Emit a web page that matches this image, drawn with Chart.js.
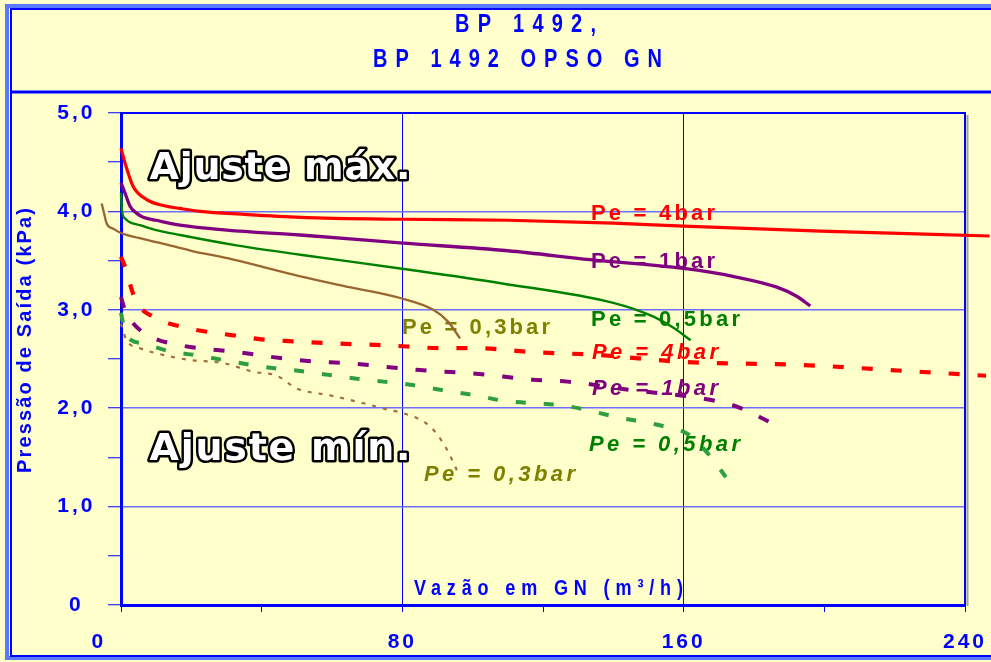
<!DOCTYPE html>
<html><head><meta charset="utf-8">
<script src="https://cdn.jsdelivr.net/npm/chart.js@4.4.1/dist/chart.umd.min.js"></script>
<style>html,body{margin:0;padding:0;background:#FFFFCC;overflow:hidden}#wrap{width:991px;height:662px;position:relative}</style>
</head><body><div id="wrap"><canvas id="c" width="991" height="662"></canvas></div>
<script>
// ---- texts ----
const titleLines = ['BP 1492,', 'BP 1492 OPSO GN'];
const yAxisTitle = 'Pressão de Saída (kPa)';
const xAxisTitle = 'Vazão em GN (m³/h)';
const seriesNames = ['Pe = 4bar', 'Pe = 1bar', 'Pe = 0,5bar', 'Pe = 0,3bar'];
const adjustLabels = ['Ajuste máx.', 'Ajuste mín.'];
const xTickLabels = {0: '0', 80: '80', 160: '160', 240: '240'};
const yTickLabels = {0: '0', 1: '1,0', 2: '2,0', 3: '3,0', 4: '4,0', 5: '5,0'};

// ---- data: "Ajuste máx." (solid) ----
const max4x = [0, 1.5, 3.5, 7.3, 12, 16.8, 22.5, 35, 51, 79.4, 110, 140, 160, 199, 247];
const max4y = [4.64, 4.45, 4.25, 4.12, 4.06, 4.03, 4.00, 3.97, 3.94, 3.92, 3.91, 3.88, 3.85, 3.80, 3.75];
const max1x = [0, 1.2, 2.6, 4.5, 6.3, 10, 16.8, 30, 51, 79.4, 110, 133.4, 160, 174, 186.5, 192, 196];
const max1y = [4.29, 4.18, 4.05, 3.98, 3.94, 3.91, 3.86, 3.81, 3.76, 3.68, 3.60, 3.51, 3.42, 3.34, 3.23, 3.14, 3.04];
const max05x = [0, 0.3, 1.1, 2.5, 5.4, 10, 16.8, 32, 51, 79.4, 108, 140, 151.4, 157, 162];
const max05y = [4.19, 4.00, 3.93, 3.89, 3.86, 3.81, 3.76, 3.66, 3.56, 3.42, 3.27, 3.07, 2.93, 2.82, 2.69];
const max03x = [-5.5, -4.8, -4.1, -2, 0, 5, 11.1, 20, 32, 51, 65, 79.4, 88.8, 93, 96.4];
const max03y = [4.08, 3.98, 3.88, 3.82, 3.78, 3.73, 3.68, 3.60, 3.51, 3.34, 3.23, 3.12, 3.00, 2.88, 2.71];

// ---- data: "Ajuste mín." (dashed) ----
const min4x = [0, 1.6, 3.0, 4.5, 9.2, 16.8, 24, 32, 40, 49, 59.5, 75, 91.7, 101, 117, 136, 160, 193, 227, 246];
const min4y = [3.54, 3.39, 3.21, 3.07, 2.93, 2.83, 2.78, 2.74, 2.70, 2.68, 2.66, 2.64, 2.61, 2.61, 2.57, 2.54, 2.47, 2.44, 2.37, 2.33];
const min1x = [0, 1.1, 3.5, 8.3, 16.8, 32.9, 50, 67, 84, 101, 117, 127, 146, 165, 174, 180, 186];
const min1y = [3.13, 3.00, 2.86, 2.73, 2.64, 2.57, 2.49, 2.45, 2.39, 2.35, 2.29, 2.27, 2.18, 2.10, 2.03, 1.94, 1.83];
const min05x = [0, 0.5, 1.1, 3, 6.3, 13.5, 21, 29, 37, 45, 50.4, 67, 74.6, 84, 92, 101, 108, 127, 141, 155, 161, 167.6, 172];
const min05y = [2.97, 2.88, 2.79, 2.69, 2.66, 2.58, 2.54, 2.49, 2.44, 2.40, 2.38, 2.30, 2.27, 2.23, 2.18, 2.13, 2.08, 2.02, 1.91, 1.81, 1.74, 1.51, 1.30];
const min03x = [0, 1.6, 5.4, 11, 19.6, 29, 37.6, 44.3, 50, 59.5, 69, 76.5, 80.3, 88, 92.7, 95.5];
const min03y = [2.86, 2.69, 2.61, 2.55, 2.49, 2.46, 2.37, 2.33, 2.20, 2.13, 2.05, 1.98, 1.95, 1.81, 1.58, 1.37];

const zip = (xs, ys) => xs.map((x, i) => ({x: x, y: ys[i]}));

const BLUE = '#0000FF';
const FONT = '"Liberation Sans", Arial, sans-serif';

function ds(label, xs, ys, color, width, dash) {
  return {
    label: label, data: zip(xs, ys), borderColor: color, backgroundColor: color,
    borderWidth: width, borderDash: dash || [], pointRadius: 0, fill: false,
    cubicInterpolationMode: 'monotone', clip: false, borderCapStyle: 'butt'
  };
}

const datasets = [
  ds(seriesNames[3] + ' mín', min03x, min03y, '#A0703C', 2.2, [4, 7]),
  ds(seriesNames[2] + ' mín', min05x, min05y, '#2E9E3E', 4, [10, 18]),
  ds(seriesNames[1] + ' mín', min1x, min1y, '#800080', 4, [11, 18]),
  ds(seriesNames[0] + ' mín', min4x, min4y, '#FF0000', 4.2, [11, 18]),
  ds(seriesNames[3] + ' máx', max03x, max03y, '#996633', 2.3),
  ds(seriesNames[2] + ' máx', max05x, max05y, '#008000', 2.4),
  ds(seriesNames[1] + ' máx', max1x, max1y, '#800080', 3.3),
  ds(seriesNames[0] + ' máx', max4x, max4y, '#FF0000', 3.2)
];

function spaced(ctx, text, left, baseline, font, width, color, stroke, hs) {
  hs = hs || 1;
  ctx.save();
  ctx.translate(left, baseline);
  ctx.scale(hs, 1);
  ctx.font = font;
  ctx.letterSpacing = '0px';
  const w0 = ctx.measureText(text).width;
  const n = Array.from(text).length;
  const ls = n > 1 ? (width / hs - w0) / (n - 1) : 0;
  ctx.letterSpacing = ls + 'px';
  ctx.textAlign = 'left';
  ctx.textBaseline = 'alphabetic';
  if (stroke) {
    ctx.lineJoin = 'round';
    ctx.lineWidth = stroke;
    ctx.strokeStyle = '#000000';
    ctx.strokeText(text, 0, 0);
  }
  ctx.fillStyle = color;
  ctx.fillText(text, 0, 0);
  ctx.restore();
}

const decor = {
  id: 'decor',
  beforeDraw(chart) {
    const ctx = chart.ctx;
    ctx.save();
    ctx.fillStyle = '#FFFFCC';
    ctx.fillRect(0, 0, chart.width, chart.height);
    ctx.strokeStyle = '#5A7BFF';
    ctx.lineWidth = 4;
    ctx.strokeRect(7, 6, 1000, 652);
    ctx.strokeStyle = BLUE;
    ctx.lineWidth = 2;
    ctx.strokeRect(11, 9, 1000, 647);
    ctx.lineWidth = 3;
    ctx.beginPath(); ctx.moveTo(10, 92); ctx.lineTo(991, 92); ctx.stroke();
    ctx.restore();
    spaced(ctx, titleLines[0], 455, 32, 'bold 25px ' + FONT, 141, BLUE, 0, 0.8);
    spaced(ctx, titleLines[1], 373, 67, 'bold 25px ' + FONT, 289, BLUE, 0, 0.8);
    ctx.save();
    ctx.translate(31, 340.5);
    ctx.rotate(-Math.PI / 2);
    spaced(ctx, yAxisTitle, -132.5, 0, 'bold 20px ' + FONT, 265, BLUE);
    ctx.restore();
    ctx.letterSpacing = '3px';
  },
  beforeDatasetsDraw(chart) {
    const ctx = chart.ctx;
    const a = chart.chartArea;
    ctx.save();
    ctx.letterSpacing = '0px';
    ctx.strokeStyle = '#A0A0A0';
    ctx.lineWidth = 2;
    ctx.beginPath(); ctx.moveTo(a.right + 2.5, a.top + 2); ctx.lineTo(a.right + 2.5, a.bottom + 1); ctx.stroke();
    ctx.strokeStyle = BLUE;
    ctx.lineWidth = 2;
    ctx.beginPath(); ctx.moveTo(a.left, a.top); ctx.lineTo(a.right, a.top); ctx.lineTo(a.right, a.bottom); ctx.stroke();
    ctx.restore();
    const nf = 'bold 22px ' + FONT, itf = 'italic bold 22px ' + FONT;
    spaced(ctx, seriesNames[0], 591, 220, nf, 124, '#FF0000');
    spaced(ctx, seriesNames[1], 591, 268, nf, 124, '#800080');
    spaced(ctx, seriesNames[2], 591, 326, nf, 149, '#008000');
    spaced(ctx, seriesNames[3], 402, 334, nf, 148, '#808000');
    spaced(ctx, seriesNames[0], 592, 359, itf, 126, '#FF0000');
    spaced(ctx, seriesNames[1], 592, 395, itf, 126, '#800080');
    spaced(ctx, seriesNames[2], 589, 451, itf, 151, '#008000');
    spaced(ctx, seriesNames[3], 424, 481, itf, 151, '#808000');
    spaced(ctx, xAxisTitle, 414, 595, 'bold 22px ' + FONT, 269, BLUE, 0, 0.82);
    spaced(ctx, adjustLabels[0], 149.5, 179, 'bold 38px "DejaVu Sans", sans-serif', 261, '#FFFFFF', 5);
    spaced(ctx, adjustLabels[1], 149.5, 460, 'bold 38px "DejaVu Sans", sans-serif', 261, '#FFFFFF', 5);
  }
};

new Chart(document.getElementById('c'), {
  type: 'line',
  data: {datasets: datasets},
  plugins: [decor],
  options: {
    responsive: false, animation: false, devicePixelRatio: 1,
    layout: {padding: {top: 113, right: 26, left: 0, bottom: 0}},
    plugins: {legend: {display: false}, title: {display: false}, tooltip: {enabled: false}},
    scales: {
      x: {
        type: 'linear',
        afterDataLimits(s) { s.min = 0; s.max = 240; },
        afterFit(s) { s.height = 57; s.paddingLeft = 0; s.paddingRight = 0; },
        border: {color: BLUE, width: 3},
        grid: {
          color: c => (c.tick && (c.tick.value === 80 || c.tick.value === 160)) ? BLUE : 'rgba(0,0,0,0)',
          lineWidth: 1, tickColor: BLUE, tickLength: 7, tickWidth: 1
        },
        ticks: {
          stepSize: 40, autoSkip: false, maxRotation: 0, padding: 18,
          color: BLUE, font: {family: FONT, size: 21, weight: 'bold'},
          callback: v => v === 0 ? xTickLabels[0] + '\u00a0\u00a0\u00a0\u00a0\u00a0' : (xTickLabels[v] || '')
        }
      },
      y: {
        type: 'linear', min: 0, max: 5,
        afterFit(s) { s.width = 121; s.paddingTop = 0; s.paddingBottom = 0; },
        border: {color: BLUE, width: 3},
        grid: {
          color: c => (c.tick && Number.isInteger(c.tick.value) && c.tick.value > 0 && c.tick.value < 5) ? '#6F6FFF' : 'rgba(0,0,0,0)',
          lineWidth: 1.5, tickColor: BLUE, tickLength: 13, tickWidth: 1
        },
        ticks: {
          stepSize: 0.5, autoSkip: false, padding: 17, crossAlign: 'center',
          color: BLUE, font: {family: FONT, size: 21, weight: 'bold'},
          callback: v => (yTickLabels[v] !== undefined ? yTickLabels[v] : '')
        }
      }
    }
  }
});
</script></body></html>
